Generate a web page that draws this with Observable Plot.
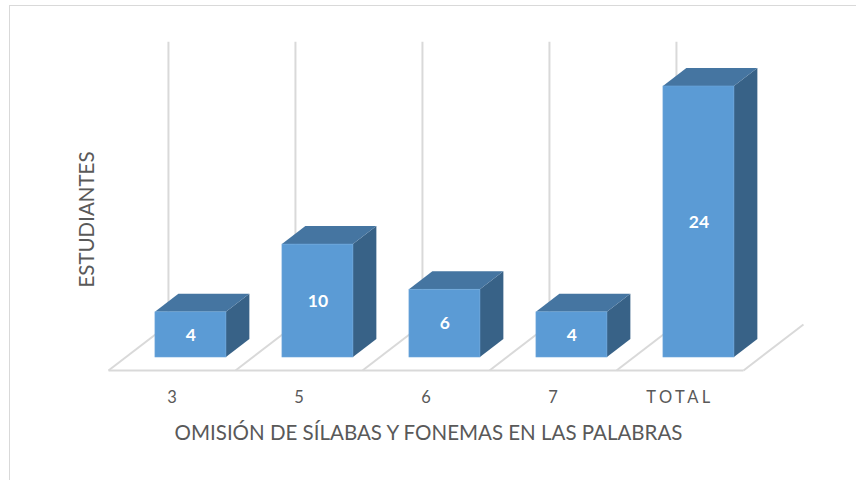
<!DOCTYPE html>
<html>
<head>
<meta charset="utf-8">
<script src="https://cdn.jsdelivr.net/npm/d3@7"></script>
<script src="https://cdn.jsdelivr.net/npm/@observablehq/plot@0.6"></script>
<style>
  html, body { margin: 0; padding: 0; background: #fff; overflow: hidden; }
  #wrap { position: relative; width: 856px; height: 480px; }
  #border { position: absolute; left: 9px; top: 5px; width: 900px; height: 520px;
            border-left: 1.5px solid #d9d9d9; border-top: 1.5px solid #d9d9d9; pointer-events: none; }
  #chart { position: absolute; left: 0; top: 0; }
</style>
</head>
<body>
<div id="wrap"><div id="chart"></div><div id="border"></div></div>
<script>
// ---- data ----
const categories = ["3", "5", "6", "7", "TOTAL"];
const values = [4, 10, 6, 4, 24];
const xTitle = "OMISIÓN DE SÍLABAS Y FONEMAS EN LAS PALABRAS";
const yTitle = "ESTUDIANTES";
const wallMax = 25;

// ---- 3D projection (style constants) ----
const DX = 0.472;   // x shift (category units) across full floor depth
const DY = 4.07;    // y shift (value units) across full floor depth
const ZF = 0.283, ZB = 0.674; // bar front/back depth
const A1 = 0.236, A2 = 0.795; // bar left/right within slot
const n = categories.length;

const bars = categories.map((c, i) => ({c, i, v: values[i]}));
const frontFaces = bars.map(d => ({
  ...d,
  x1: d.i + A1 + ZF * DX, x2: d.i + A2 + ZF * DX,
  y1: ZF * DY, y2: d.v + ZF * DY
}));
const topFaces = bars.flatMap(d => [
  {bar: d.c, y: d.v + ZF * DY, x1: d.i + A1 + ZF * DX, x2: d.i + A2 + ZF * DX},
  {bar: d.c, y: d.v + ZB * DY, x1: d.i + A1 + ZB * DX, x2: d.i + A2 + ZB * DX}
]);
const sideFaces = bars.flatMap(d => [
  {bar: d.c, x: d.i + A2 + ZF * DX, y1: ZF * DY, y2: d.v + ZF * DY},
  {bar: d.c, x: d.i + A2 + ZB * DX, y1: ZB * DY, y2: d.v + ZB * DY}
]);
const floorArea = [{y: 0, x1: 0, x2: n}, {y: DY, x1: DX, x2: n + DX}];
const ks = d3.range(n + 1);
const floorLines = ks.map(k => ({x1: k, y1: 0, x2: k + DX, y2: DY}))
  .concat([{x1: 0, y1: 0, x2: n, y2: 0}]);
const gridLines = d3.range(n).map(k => ({x: k + DX, y1: DY, y2: wallMax + DY}));

const plot = Plot.plot({
  width: 856, height: 480,
  margin: 0,
  x: {type: "linear", domain: [0, n], range: [108, 743], axis: null},
  y: {type: "linear", domain: [0, 24], range: [370, 99], axis: null},
  style: {fontFamily: "Lato, 'Open Sans', sans-serif", background: "transparent"},
  marks: [
    Plot.areaX(floorArea, {y: "y", x1: "x1", x2: "x2", fill: "white"}),
    Plot.ruleX(gridLines, {x: "x", y1: "y1", y2: "y2", stroke: "#d9d9d9", strokeWidth: 2}),
    Plot.link(floorLines, {x1: "x1", y1: "y1", x2: "x2", y2: "y2", stroke: "#d9d9d9", strokeWidth: 2}),
    Plot.areaY(sideFaces, {x: "x", y1: "y1", y2: "y2", z: "bar", fill: "#386287", curve: "linear"}),
    Plot.areaX(topFaces, {y: "y", x1: "x1", x2: "x2", z: "bar", fill: "#4575a1", curve: "linear"}),
    Plot.rect(frontFaces, {x1: "x1", x2: "x2", y1: "y1", y2: "y2", fill: "#5b9bd5", stroke: "#6ea7da", strokeWidth: 0.6}),
    Plot.text(frontFaces, {x: d => (d.x1 + d.x2) / 2, y: d => (d.y1 + d.y2) / 2, text: d => String(d.v),
      fill: "white", fontWeight: "bold", fontSize: 17.5}),
    Plot.text(bars, {x: d => d.i + 0.5, y: () => 0, dy: 27, text: "c", fill: "#595959", fontSize: 16.5}),
    Plot.text([xTitle], {frameAnchor: "bottom", lineAnchor: "middle", dy: -47, fill: "#595959", fontSize: 20.5}),
    Plot.text([yTitle], {frameAnchor: "left", textAnchor: "middle", lineAnchor: "middle", dx: 87, dy: -21, rotate: -90, fill: "#595959", fontSize: 20.5})
  ]
});
d3.select(plot).selectAll("text").filter(function() { return this.textContent === "TOTAL"; })
  .attr("letter-spacing", "3.5px");
document.getElementById("chart").appendChild(plot);
</script>
</body>
</html>
